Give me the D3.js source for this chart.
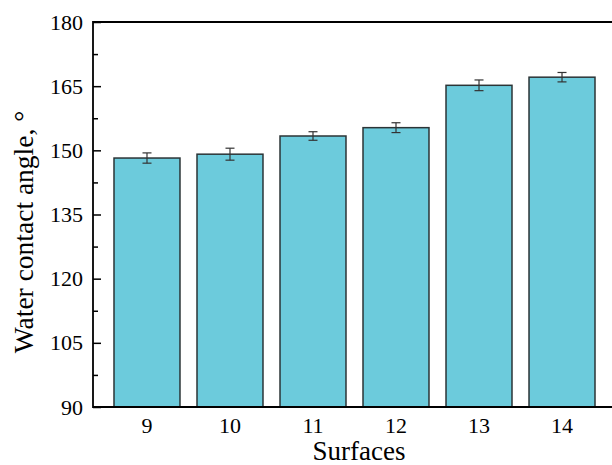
<!DOCTYPE html>
<html><head><meta charset="utf-8">
<script src="https://cdn.jsdelivr.net/npm/d3@7"></script>
<style>body{margin:0;background:#fff}svg{display:block}</style>
</head><body>
<svg id="c" width="612" height="465"></svg>
<script>
const categories = ["9","10","11","12","13","14"];
const values = [148.2, 149.1, 153.35, 155.3, 165.2, 167.1];
const errors = [1.2, 1.4, 1.0, 1.15, 1.25, 1.1];
const yTicks = [90,105,120,135,150,165,180];
const yMinor = [97.5,112.5,127.5,142.5,157.5,172.5];

const svg = d3.select("#c");
const L = 93, T = 22, R = 616, B = 407;
const x = d3.scaleBand().domain(categories).range([L, R]).paddingInner(0.205).paddingOuter(0.253);
const y = d3.scaleLinear().domain([90,180]).range([B, T]);
const font = "'Liberation Serif','Times New Roman',serif";

const g = svg.append("g");
g.selectAll("rect.bar").data(values).join("rect")
  .attr("x",(d,i)=>x(categories[i])).attr("width",x.bandwidth())
  .attr("y",d=>y(d)).attr("height",d=>B-y(d))
  .attr("fill","#6ccbdc").attr("stroke","#2b3436").attr("stroke-width",1.5);

const eb = g.selectAll("g.err").data(values).join("g");
eb.append("line").attr("x1",(d,i)=>x(categories[i])+x.bandwidth()/2).attr("x2",(d,i)=>x(categories[i])+x.bandwidth()/2)
  .attr("y1",(d,i)=>y(d+errors[i])).attr("y2",(d,i)=>y(d-errors[i])).attr("stroke","#333").attr("stroke-width",1.2);
[1,-1].forEach(s=>{
  eb.append("line").attr("x1",(d,i)=>x(categories[i])+x.bandwidth()/2-4.5).attr("x2",(d,i)=>x(categories[i])+x.bandwidth()/2+4.5)
    .attr("y1",(d,i)=>y(d+s*errors[i])).attr("y2",(d,i)=>y(d+s*errors[i])).attr("stroke","#333").attr("stroke-width",1.2);
});

// y axis
const ya = svg.append("g").attr("transform",`translate(${L},0)`)
  .call(d3.axisLeft(y).tickValues(yTicks).tickSize(-8).tickPadding(10).tickFormat(d3.format("d")));
ya.select(".domain").remove();
ya.selectAll(".tick line").attr("stroke","#000").attr("stroke-width",1.5);
ya.selectAll("text").attr("font-family",font).attr("font-size",22).attr("fill","#000");
const ym = svg.append("g").attr("transform",`translate(${L},0)`)
  .call(d3.axisLeft(y).tickValues(yMinor).tickSize(-5).tickFormat(""));
ym.select(".domain").remove();
ym.selectAll(".tick line").attr("stroke","#000").attr("stroke-width",1.5);

// x axis
const xa = svg.append("g").attr("transform",`translate(0,${B})`)
  .call(d3.axisBottom(x).tickSize(0).tickPadding(10));
xa.select(".domain").remove();
xa.selectAll("text").attr("font-family",font).attr("font-size",22).attr("fill","#000");

// frame
svg.append("path").attr("d",`M${R},${T}H${L}V${B}H${R}`).attr("fill","none").attr("stroke","#000").attr("stroke-width",1.8);

svg.append("text").attr("x",359).attr("y",460).attr("text-anchor","middle")
  .attr("font-family",font).attr("font-size",27).text("Surfaces");
svg.append("text").attr("transform",`translate(33,232) rotate(-90)`).attr("text-anchor","middle")
  .attr("font-family",font).attr("font-size",27.5).text("Water contact angle, °");
</script>
</body></html>
